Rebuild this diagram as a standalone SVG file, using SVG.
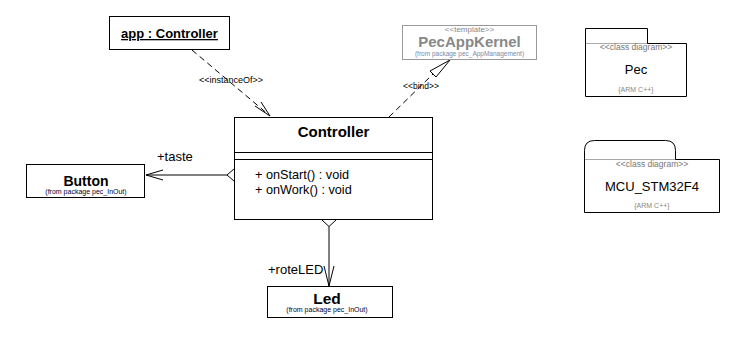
<svg xmlns="http://www.w3.org/2000/svg" width="752" height="352" viewBox="0 0 752 352">
<style>
text{font-family:"Liberation Sans",Arial,sans-serif;fill:#000}
.box{fill:#fff;stroke:#000;stroke-width:1}
.b{font-weight:bold}
.c{text-anchor:middle}
.pkg{font-size:7px;fill:#000030}
.st{font-size:8.5px;fill:#777}
.arm{font-size:7px;fill:#888}
.ln{stroke:#000;stroke-width:1;fill:none}
.dash{stroke:#000;stroke-width:1;fill:none;stroke-dasharray:6,4}
.dia{fill:#fff;stroke:#000;stroke-width:1}
</style>
<rect width="752" height="352" fill="#fff"/>
<g id="connectors">
  <line class="dash" x1="192" y1="50" x2="269" y2="115"/>
  <path class="ln" d="M255,106 L270,116 L261,102"/>
  <text x="231" y="83" class="c" style="font-size:9px">&lt;&lt;instanceOf&gt;&gt;</text>
  <line class="dash" x1="389" y1="117" x2="433" y2="74"/>
  <path class="dia" d="M450,60 L430,71 L436,77 Z"/>
  <text x="421" y="89" class="c" style="font-size:8.5px">&lt;&lt;bind&gt;&gt;</text>
  <line class="ln" x1="227" y1="175" x2="146" y2="175"/>
  <path class="ln" d="M163,170 L146,175 L163,180"/>
  <path class="dia" d="M227,175 L234,169 L241,175 L234,181 Z"/>
  <text x="157" y="161" style="font-size:13px">+taste</text>
  <line class="ln" x1="329" y1="226.5" x2="329" y2="286"/>
  <path class="ln" d="M324,266 L329,286 L334,266"/>
  <path class="dia" d="M322,220 L329,213.5 L336,220 L329,226.5 Z"/>
  <text x="268" y="274" style="font-size:13px">+roteLED</text>
</g>
<g id="app">
  <rect class="box" x="109.5" y="16.5" width="120" height="33"/>
  <text x="169.5" y="38" class="c b" style="font-size:13px;text-decoration:underline">app : Controller</text>
</g>
<g id="PecAppKernel">
  <rect x="402.5" y="25.5" width="134" height="34" fill="#fff" stroke="#999"/>
  <text x="469.5" y="32" class="c" style="font-size:8px;fill:#888">&lt;&lt;template&gt;&gt;</text>
  <text x="469.5" y="47" class="c b" style="font-size:15px;fill:#888">PecAppKernel</text>
  <text x="469.5" y="55.5" class="c" style="font-size:6.5px;fill:#7a8aa8">(from package pec_AppManagement)</text>
</g>
<g id="Controller">
  <rect class="box" x="234.5" y="117.5" width="198" height="102"/>
  <line class="ln" x1="234.5" y1="152.5" x2="432.5" y2="152.5"/>
  <line class="ln" x1="234.5" y1="159.5" x2="432.5" y2="159.5"/>
  <text x="333.5" y="137" class="c b" style="font-size:15px">Controller</text>
  <text x="255" y="179" style="font-size:12.7px">+ onStart() : void</text>
  <text x="255" y="194" style="font-size:12.7px">+ onWork() : void</text>
</g>
<g id="Button">
  <rect class="box" x="26.5" y="164.5" width="118" height="33"/>
  <text x="86" y="186" class="c b" style="font-size:14px">Button</text>
  <text x="86" y="193.5" class="c pkg">(from package pec_InOut)</text>
</g>
<g id="Led">
  <rect class="box" x="267.5" y="286.5" width="125" height="31"/>
  <text x="327" y="304" class="c b" style="font-size:15.5px">Led</text>
  <text x="327" y="312" class="c pkg">(from package pec_InOut)</text>
</g>
<g id="Pec">
  <line x1="585.5" y1="43.5" x2="686.5" y2="43.5" stroke="#aaa"/>
  <path class="ln" d="M585.5,96.5 V28.5 H647.5 V43.5 H686.5 V96.5 Z"/>
  <text x="636" y="50" class="c st">&lt;&lt;class diagram&gt;&gt;</text>
  <text x="636" y="74" class="c" style="font-size:13px">Pec</text>
  <text x="636" y="92" class="c arm">{ARM C++}</text>
</g>
<g id="MCU_STM32F4">
  <line x1="584.5" y1="159.5" x2="719.5" y2="159.5" stroke="#aaa"/>
  <path class="ln" d="M584.5,212.5 V150.5 Q584.5,140.5 594.5,140.5 H665.5 Q675.5,140.5 675.5,150.5 V159.5 H719.5 V212.5 Z"/>
  <text x="652" y="167" class="c st">&lt;&lt;class diagram&gt;&gt;</text>
  <text x="652" y="191" class="c" style="font-size:13px">MCU_STM32F4</text>
  <text x="652" y="208" class="c arm">{ARM C++}</text>
</g>
</svg>
